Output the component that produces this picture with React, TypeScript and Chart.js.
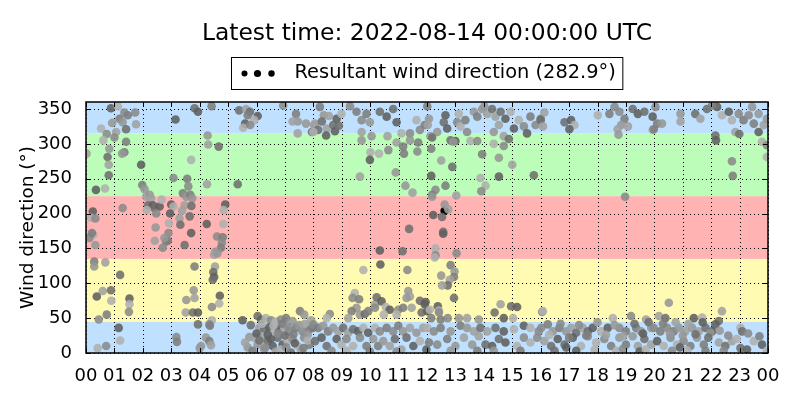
import React, { useEffect, useRef } from 'react';
import { Chart, registerables } from 'chart.js';

Chart.register(...registerables);

const titleText = 'Latest time: 2022-08-14 00:00:00 UTC';
const legendText = 'Resultant wind direction (282.9°)';
const yAxisTitle = 'Wind direction (°)';
const hourLabels = ['00','01','02','03','04','05','06','07','08','09','10','11','12','13','14','15','16','17','18','19','20','21','22','23','00'];
const dirTicks = [0, 50, 100, 150, 200, 250, 300, 350];
const sectorBounds = [0, 45, 135, 225, 315, 360];
const sectorColors = ['#bfe0ff', '#fffbb3', '#ffb3b3', '#bbfdb9', '#bfe0ff'];

const obs00to04 = [
  [0.88,351],[1.12,354],[1.35,345],[1.47,341],[1.73,345],[1.18,336],[1.29,331],[1.76,328],[0.92,330],[1.06,317],[1.41,321],[3.15,335],[3.82,351],[3.94,346],[0.53,322],[0.73,314],[0.61,305],[1.0,309],[1.41,303],[0.82,293],[1.35,288],[1.27,286],[0.02,286],[0.76,281],[0.80,270],[0.80,255],[1.94,270],[3.7,277],[0.35,234],[0.67,236],[3.08,251],[3.56,250],[3.6,239],
  [1.98,241],[2.06,235],[2.12,224],[2.24,227],[2.29,222],[2.18,212],[2.35,212],[2.41,208],[2.59,210],[2.66,220],[2.47,200],[2.14,205],[1.29,208],
  [3.41,229],[3.53,224],[3.67,227],[3.74,222],[3.47,212],[3.71,211],[3.38,204],[3.65,196],
  [3.0,213],[3.08,210],[2.96,200],[2.92,186],[2.9,172],[2.82,160],[2.7,151],[2.88,161],[2.45,180],[2.42,161],[2.76,165],
  [3.29,193],[3.32,184],[3.7,172],[3.47,155],
  [0.24,203],[0.18,194],[0.33,193],[0.26,170],[0.12,165],[0.21,172],[0.33,155],
  [0.29,131],[0.29,124],[0.68,130],[1.2,112],[0.59,89],[0.88,90],[0.38,81],[0.89,75],[1.53,78],[1.53,70],[1.51,59],[0.73,55],[0.45,48],[3.82,124],[3.79,90],[3.82,79],[3.53,76],[3.51,58],[3.76,58],[3.94,58],[3.94,41],
  [1.15,36],[1.2,18],[0.71,10],[0.41,7],[3.18,23],[3.2,16],[4.0,7]
];

const obs04to08 = [
  [4.42,354],[4.28,312],[4.30,299],[4.67,296],[4.26,242],[5.34,242],[4.9,213],[4.84,205],[4.25,185],[4.83,185],[4.61,167],[4.81,166],[4.78,158],[4.75,151],[4.55,145],[4.51,141],[4.63,143],[4.54,124],[4.48,116],[4.51,109],[4.46,105],[4.71,82],[4.69,71],[4.43,66],[4.43,47],[4.34,41],[4.36,39],[4.22,22],[4.34,17],[4.05,10],[4.4,11],
  [5.39,348],[5.63,350],[5.77,346],[6.04,340],[5.92,334],[5.6,329],[5.53,323],[5.78,327],[5.69,341],
  [6.94,355],[7.39,343],[7.45,332],[7.27,332],[7.74,329],[7.45,315],[7.95,317],
  [5.51,47],[6.04,53],[6.16,48],[6.33,50],[6.51,47],[6.68,45],[6.86,48],[7.04,50],[7.27,46],[7.53,60],[7.68,55],[7.92,47],[7.97,36],
  [6.1,36],[6.27,34],[6.45,37],[6.63,31],[6.8,34],[6.98,36],[7.15,31],[7.39,36],[7.62,31],[7.86,34],
  [5.75,23],[5.92,22],[6.04,12],[6.21,24],[6.39,17],[6.57,10],[6.74,22],[6.92,12],[7.09,17],[7.27,20],[7.45,10],[7.68,22],[7.86,12],
  [5.69,8],[5.86,3],[6.27,5],[6.68,2],[7.21,0.5],[7.57,3],
  [5.8,40],[6.0,28],[6.2,42],[6.4,26],[6.6,39],[6.75,28],[6.9,42],[7.1,38],[7.3,27],[7.5,40],[7.7,42],[7.8,26],[5.6,15],[6.1,18],[6.5,20],[7.0,25],[7.35,14],[7.8,18],[6.3,8],[6.85,5],[7.05,8],[7.65,7]
];

const obs08to12 = [
  [8.03,327],[8.23,353],[8.37,341],[8.06,329],[8.17,320],[8.47,322],[8.7,327],[8.82,336],[8.99,343],[8.76,318],[8.0,317],[9.29,354],[9.52,346],[9.7,334],[9.87,343],[9.99,331],[9.7,317],[10.05,311],[10.61,311],[10.34,346],[10.58,339],[10.81,350],[10.93,331],[11.1,315],[11.4,315],[11.63,334],[11.75,320],[11.92,327],[11.4,305],[11.69,302],[9.7,305],[10.93,302],
  [8.3,332],[8.55,340],[8.9,326],[8.45,312],
  [10.01,288],[9.99,277],[10.31,286],[10.64,291],[11.16,296],[11.66,289],[11.19,286],[10.9,259],[9.64,253],[11.24,240],[11.49,230],
  [11.37,178],[10.34,147],[11.14,146],[10.36,127],[9.76,119],[11.31,119],
  [9.46,86],[9.38,79],[9.61,77],[9.52,65],[9.35,60],[9.64,55],[9.23,50],[9.81,56],[10.17,70],[10.23,80],[10.4,74],[10.55,66],[10.69,62],[10.48,55],[10.17,65],[9.93,60],[10.99,62],[11.16,65],[11.34,89],[11.4,81],[11.28,79],[11.46,65],[11.75,75],[11.92,70],[11.81,58],[12.01,60],[10.93,55],
  [8.58,56],[8.47,50],
  [8.0,41],[8.17,36],[8.35,39],[8.52,31],[8.7,36],[8.88,31],[9.05,36],[9.23,29],[9.4,34],[9.58,31],[9.76,36],[9.93,29],[10.17,36],[10.34,31],[10.58,36],[10.81,31],[10.99,39],[11.16,31],[11.4,36],[11.63,29],[11.87,36],
  [8.06,17],[8.29,22],[8.47,10],[8.82,20],[8.99,12],[9.17,20],[9.4,10],[9.64,22],[9.87,10],[10.11,20],[10.28,10],[10.46,17],[10.69,10],[10.87,20],[11.1,5],[11.28,22],[11.52,10],[11.75,17],[11.98,5],
  [9.17,3],[8.64,3],[9.99,2],[10.93,2]
];

const obs12to16 = [
  [12.01,354],[12.07,336],[12.03,327],[12.36,317],[12.12,311],[12.18,309],[12.65,341],[12.59,331],[12.71,322],[13.12,343],[13.06,331],[13.18,325],[13.41,317],[13.35,334],[13.65,346],[13.77,339],[13.94,350],[14.12,343],[14.29,350],[14.41,339],[14.59,346],[14.76,336],[14.94,346],[15.06,322],[15.23,334],[15.41,325],[15.64,339],[15.82,327],[16.0,336],[14.02,354],[14.53,327],[14.35,317],[14.7,311],[14.88,307],[15.52,315],[12.83,305],
  [13.0,304],[13.53,304],[13.77,304],[14.35,300],[14.7,297],[12.15,293],[12.92,303],[13.94,285],[14.53,280],[12.5,276],[12.89,267],[15.0,270],[15.76,255],[12.15,254],[13.88,251],[14.53,253],[14.06,240],[13.91,232],[12.65,240],[12.3,234],[12.18,227],[12.18,224],[13.03,226],
  [12.62,213],[12.75,206],[12.53,195],[12.22,198],[12.57,174],[12.57,171],[12.3,150],[12.3,140],[12.27,137],[13.04,143],
  [12.83,126],[12.97,117],[12.95,109],[12.5,111],[12.8,105],[12.73,97],[12.53,97],[12.95,79],[11.95,73],[12.1,62],[12.38,67],[12.42,61],[12.42,58],[12.15,50],[12.73,50],[12.48,48],[13.12,50],[13.41,50],[13.82,48],[14.59,70],[14.96,67],[15.17,66],[14.38,58],[14.7,50],[15.03,50],[16.05,59],
  [12.01,36],[12.24,31],[12.48,36],[12.83,31],[13.18,39],[13.41,36],[13.65,31],[13.88,36],[14.12,31],[14.41,36],[14.7,31],[15.06,34],[15.41,39],[15.64,36],[15.93,31],
  [12.07,15],[12.36,12],[12.71,20],[13.0,10],[13.3,22],[13.59,12],[13.82,24],[14.06,12],[14.29,10],[14.53,20],[14.76,15],[15.17,10],[15.41,22],[15.64,15],[15.88,22],
  [13.77,3],[14.35,3],[15.29,3],[12.83,3]
];

const obs16to20 = [
  [16.13,345],[16.0,334],[16.08,325],[16.84,331],[17.07,334],[17.19,327],[17.01,321],[18.01,341],[18.6,353],[18.42,343],[18.77,346],[18.95,336],[18.83,327],[18.71,321],[18.74,313],[19.07,325],[19.24,350],[19.42,343],[19.65,346],[19.94,339],[19.94,320],[18.97,224],
  [16.08,60],
  [16.02,36],[16.25,41],[16.43,31],[16.66,36],[16.9,31],[17.07,36],[17.25,29],[17.48,36],[17.66,31],[17.83,36],[18.13,31],[18.36,36],[18.54,50],[18.77,36],[19.0,31],[19.18,53],[19.36,36],[19.53,31],[19.71,48],[19.89,36],
  [16.13,17],[16.37,10],[16.6,20],[16.84,12],[17.13,22],[17.42,10],[17.66,24],[17.95,15],[18.24,20],[18.48,10],[18.77,22],[19.0,12],[19.24,24],[19.42,10],[19.65,20],[19.89,12],
  [16.49,3],[17.25,3],[18.66,3],[19.48,2],
  [16.3,26],[16.7,42],[17.0,22],[17.35,40],[17.6,25],[18.0,44],[18.3,26],[18.6,40],[18.9,24],[19.3,42],[19.6,28],[19.8,44],[16.9,8],[17.9,5],[18.9,6],[19.7,5]
];

const obs20to24 = [
  [20.04,353],[20.1,329],[20.27,329],[19.98,321],[20.92,343],[20.92,332],[21.44,343],[21.62,336],[21.85,350],[22.21,353],[22.38,341],[22.62,346],[22.73,334],[22.97,343],[23.14,334],[23.32,341],[23.5,329],[23.67,343],[23.85,327],[23.96,336],[22.85,317],[22.15,312],[22.17,305],[22.99,314],[23.67,317],[23.79,303],[23.96,298],[23.96,281],[22.73,275],[22.76,254],[23.44,353],[22.03,355],
  [20.51,72],[22.38,60],[22.27,46],[20.16,53],[20.39,50],[21.39,50],[21.68,51],[22.15,41],[23.03,36],
  [19.98,36],[20.21,31],[20.45,36],[20.68,31],[20.86,36],[21.09,31],[21.33,36],[21.56,31],[21.8,36],[22.03,31],[23.09,31],
  [20.1,17],[20.33,10],[20.57,22],[20.8,12],[21.03,17],[21.27,10],[21.5,22],[21.74,12],[21.97,29],[22.27,15],[22.5,10],[22.73,17],[23.03,7],[23.26,5],[23.5,17],[23.79,12],[23.96,3],[22.44,3],[21.8,3],[20.62,3],
  [20.3,42],[20.55,28],[20.75,44],[21.0,25],[21.2,42],[21.45,27],[21.7,44],[21.9,22],[20.9,8],[21.15,4],[22.6,25],[22.9,20],[23.3,28],[23.7,24],[22.3,32]
];

const latestObs = [[12.62, 204]];

const greys = ['rgba(95,95,95,0.88)', 'rgba(160,160,160,0.88)', 'rgba(125,125,125,0.88)', 'rgba(175,175,175,0.88)', 'rgba(110,110,110,0.88)', 'rgba(150,150,150,0.88)', 'rgba(138,138,138,0.88)'];
const FONT = '"DejaVu Sans", sans-serif';

const decorPlugin = {
  id: 'decor',
  beforeDraw(chart: any) {
    const { ctx, chartArea: a, scales } = chart;
    const x = scales.x, y = scales.y;
    ctx.save();
    for (let i = 0; i < sectorColors.length; i++) {
      const y0 = y.getPixelForValue(sectorBounds[i]);
      const y1 = y.getPixelForValue(sectorBounds[i + 1]);
      ctx.fillStyle = sectorColors[i];
      ctx.fillRect(a.left, y1, a.right - a.left, y0 - y1);
    }
    ctx.strokeStyle = '#000';
    ctx.lineWidth = 1;
    ctx.setLineDash([1, 3]);
    hourLabels.forEach((_, i) => {
      const px = Math.round(x.getPixelForValue(i)) + 0.5;
      ctx.beginPath(); ctx.moveTo(px, a.top); ctx.lineTo(px, a.bottom); ctx.stroke();
    });
    dirTicks.forEach((v) => {
      const py = Math.round(y.getPixelForValue(v)) + 0.5;
      ctx.beginPath(); ctx.moveTo(a.left, py); ctx.lineTo(a.right, py); ctx.stroke();
    });
    ctx.restore();
  },
  afterDatasetsDraw(chart: any) {
    const { ctx, chartArea: a, scales } = chart;
    const x = scales.x, y = scales.y;
    ctx.save();
    ctx.strokeStyle = '#000';
    ctx.lineWidth = 1;
    const tl = 5;
    hourLabels.forEach((_, i) => {
      const px = Math.round(x.getPixelForValue(i)) + 0.5;
      ctx.beginPath();
      ctx.moveTo(px, a.bottom); ctx.lineTo(px, a.bottom - tl);
      ctx.moveTo(px, a.top); ctx.lineTo(px, a.top + tl);
      ctx.stroke();
    });
    dirTicks.forEach((v) => {
      const py = Math.round(y.getPixelForValue(v)) + 0.5;
      ctx.beginPath();
      ctx.moveTo(a.left, py); ctx.lineTo(a.left + tl, py);
      ctx.moveTo(a.right, py); ctx.lineTo(a.right - tl, py);
      ctx.stroke();
    });
    ctx.lineWidth = 1.5;
    ctx.strokeRect(a.left, a.top, a.right - a.left, a.bottom - a.top);
    ctx.restore();
  },
  afterDraw(chart: any) {
    const { ctx, chartArea: a } = chart;
    ctx.save();
    ctx.fillStyle = '#000';
    ctx.textAlign = 'center';
    ctx.textBaseline = 'middle';
    ctx.font = `23.4px ${FONT}`;
    ctx.fillText(titleText, (a.left + a.right) / 2, 34);
    // legend
    ctx.font = `19.4px ${FONT}`;
    const tw = ctx.measureText(legendText).width;
    const boxW = tw + 70;
    const bx = Math.round((a.left + a.right) / 2 - boxW / 2) + 0.5;
    const by = 57.5;
    ctx.fillStyle = '#fff';
    ctx.fillRect(bx, by, boxW, 32);
    ctx.strokeStyle = '#000';
    ctx.lineWidth = 1;
    ctx.strokeRect(bx, by, boxW, 32);
    ctx.fillStyle = '#000';
    const dots = [[13, 3], [26, 3.6], [40, 3.2]];
    dots.forEach(([dx, r]) => {
      ctx.beginPath(); ctx.arc(bx + dx, by + 16, r, 0, Math.PI * 2); ctx.fill();
    });
    ctx.textAlign = 'left';
    ctx.fillText(legendText, bx + 63, by + 15);
    // y axis title
    ctx.font = `18.5px ${FONT}`;
    ctx.translate(28, (a.top + a.bottom) / 2);
    ctx.rotate(-Math.PI / 2);
    ctx.textAlign = 'center';
    ctx.fillText(yAxisTitle, 0, 0);
    ctx.restore();
  }
};

export default function App() {
  const ref = useRef<HTMLCanvasElement | null>(null);
  useEffect(() => {
    if (!ref.current) return;
    const allObs = [...obs00to04, ...obs04to08, ...obs08to12, ...obs12to16, ...obs16to20, ...obs20to24];
    const chart = new Chart(ref.current, {
      type: 'scatter',
      data: {
        datasets: [
          {
            label: legendText,
            data: allObs.map(([h, d]) => ({ x: h, y: d })),
            backgroundColor: allObs.map((_, i) => greys[(i * 3 + (i >> 2)) % greys.length]),
            borderWidth: 0,
            pointRadius: 4.3,
            pointHoverRadius: 4.3,
          },
          {
            label: 'latest',
            data: latestObs.map(([h, d]) => ({ x: h, y: d })),
            backgroundColor: '#000',
            borderWidth: 0,
            pointRadius: 4.3,
          },
        ],
      },
      options: {
        animation: false,
        responsive: true,
        maintainAspectRatio: false,
        events: [],
        layout: { padding: { top: 102, right: 32, left: 0, bottom: 0 } },
        plugins: { legend: { display: false }, title: { display: false }, tooltip: { enabled: false } },
        scales: {
          x: {
            type: 'linear',
            min: 0,
            max: 24,
            grid: { display: false },
            border: { display: false },
            afterBuildTicks: (s: any) => { s.ticks = hourLabels.map((_, i) => ({ value: i })); },
            afterFit: (s: any) => { s.height = 47; },
            ticks: {
              autoSkip: false,
              maxRotation: 0,
              padding: 5,
              color: '#000',
              font: { family: FONT, size: 18 },
              callback: (v: any) => hourLabels[Math.round(v)],
            },
          },
          y: {
            type: 'linear',
            min: 0,
            max: 360,
            grid: { display: false },
            border: { display: false },
            afterBuildTicks: (s: any) => { s.ticks = dirTicks.map((v) => ({ value: v })); },
            afterFit: (s: any) => { s.width = 86; },
            ticks: {
              padding: 6,
              color: '#000',
              font: { family: FONT, size: 18 },
              callback: (v: any) => String(v),
            },
          },
        },
      },
      plugins: [decorPlugin],
    });
    return () => chart.destroy();
  }, []);
  return (
    <div style={{ position: 'absolute', left: 0, top: 0, width: 800, height: 400, background: '#fff' }}>
      <canvas ref={ref} />
    </div>
  );
}
